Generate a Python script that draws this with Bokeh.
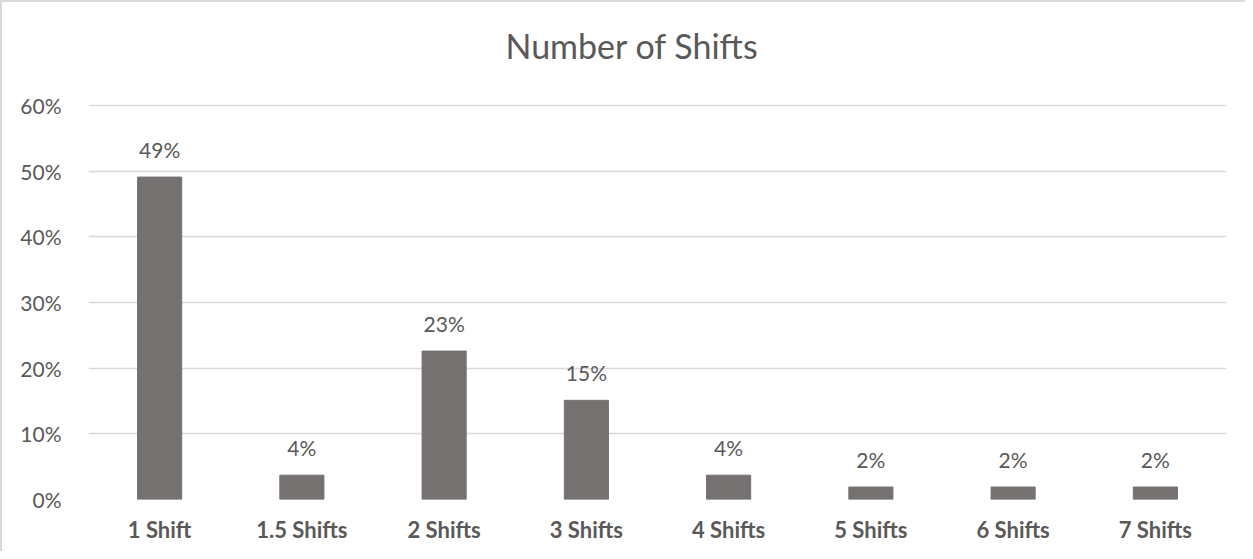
from bokeh.plotting import figure
from bokeh.models import Range1d, NumeralTickFormatter, ColumnDataSource, FixedTicker, Title
from bokeh.core.properties import value
from bokeh.embed import file_html
from bokeh.resources import INLINE

categories = ["1 Shift", "1.5 Shifts", "2 Shifts", "3 Shifts", "4 Shifts", "5 Shifts", "6 Shifts", "7 Shifts"]
shares = [0.491, 0.037, 0.226, 0.151, 0.037, 0.019, 0.019, 0.019]
y_ticks = [0.0, 0.1, 0.2, 0.3, 0.4, 0.5, 0.6]
title_text = "Number of Shifts"

FONT = "Lato"
TXT = "#595959"

labels = [f"{round(v * 100)}%" for v in shares]
src = ColumnDataSource(dict(cat=categories, top=shares, lab=labels))

p = figure(x_range=categories, y_range=Range1d(0, 0.6015), width=1245, height=551,
           output_backend="svg", toolbar_location=None,
           min_border_left=86, min_border_right=21, min_border_top=0, min_border_bottom=54)

p.vbar(x="cat", top="top", width=0.31, source=src, color="#767171")
p.text(x="cat", y="top", text="lab", source=src, text_align="center",
       text_baseline="alphabetic", y_offset=-28, text_font=value(FONT),
       text_font_size="21px", text_color=TXT)

p.outline_line_color = None
p.background_fill_color = "white"
p.border_fill_color = "white"
p.xgrid.grid_line_color = None
p.ygrid.grid_line_color = "#d9d9d9"
p.ygrid.grid_line_width = 1.5
p.yaxis.ticker = FixedTicker(ticks=y_ticks)
p.yaxis.formatter = NumeralTickFormatter(format="0%")

for ax in (p.xaxis[0], p.yaxis[0]):
    ax.axis_line_color = None
    ax.major_tick_line_color = None
    ax.minor_tick_line_color = None
    ax.major_label_text_font = FONT
    ax.major_label_text_color = TXT
    ax.major_label_text_font_size = "21px"

p.xaxis.major_label_text_font_size = "22px"
p.yaxis.major_label_standoff = 21
p.xaxis.major_label_standoff = 10
p.xaxis.major_label_text_font_style = "bold"

# spacer between title and plot area
p.add_layout(Title(text=" ", text_font_size="1px", standoff=16), "above")

p.title.text = title_text
p.title.align = "left"
p.title.offset = 417
p.title.standoff = 40
p.title.text_font = FONT
p.title.text_font_size = "34px"
p.title.text_font_style = "normal"
p.title.text_color = TXT

p.styles = {"border-left": "2px solid #d9d9d9", "border-top": "2px solid #d9d9d9"}

open("out.html", "w").write(file_html(p, INLINE))
